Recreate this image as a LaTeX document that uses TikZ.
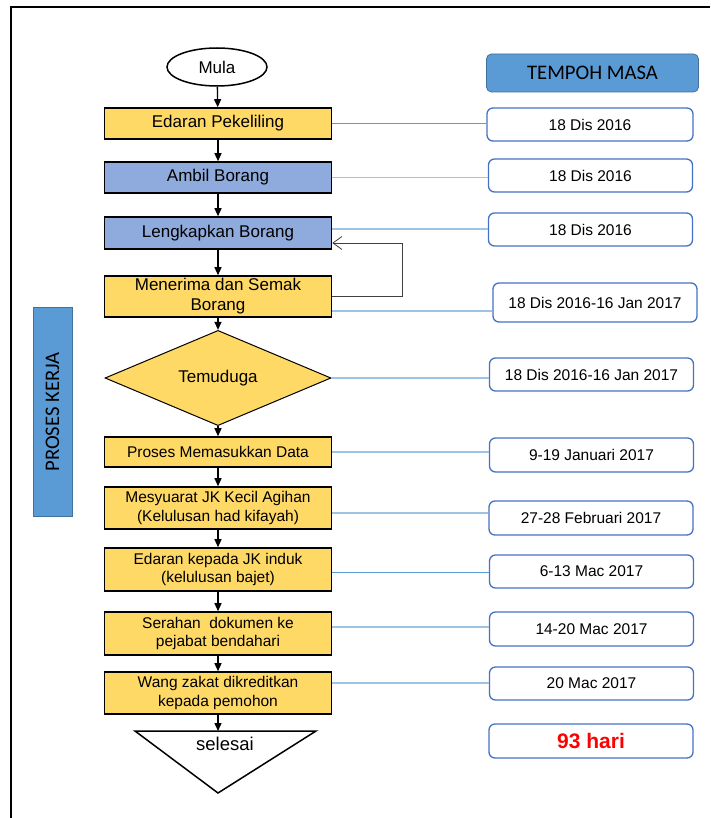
\documentclass[tikz,border=0pt]{standalone}
\usepackage{fontspec}
\setmainfont{Liberation Sans}
\newfontfamily\calibrifont{Carlito}
\usetikzlibrary{shapes.geometric,arrows.meta}

\definecolor{boxyellow}{HTML}{FFD966}
\definecolor{boxblue}{HTML}{8FAADC}
\definecolor{headblue}{HTML}{5B9BD5}
\definecolor{headline}{HTML}{41719C}
\definecolor{dateline}{HTML}{4472C4}
\definecolor{linklight}{HTML}{9DC3E6}
\definecolor{linkmid}{HTML}{5B9BD5}

\begin{document}
\begin{tikzpicture}[x=1pt, y=-1pt,
	every node/.style={inner sep=0pt, align=center},
	bigtext/.style={font=\fontsize{17}{20}\selectfont},
	smalltext/.style={font=\fontsize{15.5}{18.5}\selectfont},
	headtext/.style={font=\calibrifont\fontsize{20.7}{24}\selectfont},
	flowbox/.style={rectangle, draw=black, line width=1.6pt, fill=boxyellow, minimum width=227pt, minimum height=31pt},
	bluebox/.style={flowbox, fill=boxblue},
	datebox/.style={rectangle, rounded corners=6pt, draw=dateline, line width=1.3pt, fill=white, minimum width=204pt, minimum height=33pt, smalltext},
	link/.style={draw=linklight, line width=1.3pt},
	thinlink/.style={draw=linkmid, line width=0.7pt},
	arr/.style={-{Triangle[width=7pt,length=8pt]}, draw=black, line width=1.3pt},
	back/.style={-{Straight Barb[width=13pt,length=9pt]}, draw=black!75, line width=0.8pt}]
			\useasboundingbox (0,0) rectangle (710,818);
			\draw[line width=1.5pt] (11,818) -- (11,7) -- (710,7);
			
			% flow on the left
			\node[ellipse, draw=black, line width=1.5pt, minimum width=100pt, minimum height=38pt, bigtext] (mula) at (217,67){Mula};
			\node[flowbox, bigtext] (edaran) at (218,123.5){Edaran Pekeliling};
			\node[bluebox, bigtext] (ambil) at (218,177.5){Ambil Borang};
			\node[bluebox, bigtext, minimum height=32pt] (lengkap) at (218,233){Lengkapkan Borang};
			\node[flowbox, bigtext, minimum height=41pt] (menerima) at (218,296.5){Menerima dan Semak\\Borang};
			\node[diamond, draw=black, line width=1pt, fill=boxyellow, minimum width=226pt, minimum height=76pt, bigtext] (temuduga) at (218,378){Temuduga};
			\node[flowbox, smalltext, minimum height=30pt] (proses) at (218,452){Proses Memasukkan Data};
			\node[flowbox, smalltext, minimum height=42pt] (mesyuarat) at (218,508){Mesyuarat JK Kecil Agihan\\(Kelulusan had kifayah)};
			\node[flowbox, smalltext, minimum height=43pt] (edaraninduk) at (218,569.5){Edaran kepada JK induk\\(kelulusan bajet)};
			\node[flowbox, smalltext, minimum height=43pt] (serahan) at (218,633.5){Serahan\ \ dokumen ke\\pejabat bendahari};
			\node[flowbox, smalltext, minimum height=42pt] (wang) at (218,693){Wang zakat dikreditkan\\kepada pemohon};
			\draw[line width=1.5pt, fill=white] (135,731) -- (316,731) -- (218,793) -- cycle;
			\coordinate (selesaitop) at (218,731);
			\node[font=\fontsize{18.5}{21}\selectfont] (selesai) at (225,744){selesai};
			
			\path (mula) edge[arr] (edaran);
			\path (edaran) edge[arr] (ambil);
			\path (ambil) edge[arr] (lengkap);
			\path (lengkap) edge[arr] (menerima);
			\path (menerima) edge[arr] (temuduga);
			\path (temuduga) edge[arr] (proses);
			\path (proses) edge[arr] (mesyuarat);
			\path (mesyuarat) edge[arr] (edaraninduk);
			\path (edaraninduk) edge[arr] (serahan);
			\path (serahan) edge[arr] (wang);
			\path (wang) edge[arr] (selesaitop);
			\draw[back] (menerima.east) -- ++(70,0) |- ([yshift=-10pt]lengkap.east);
			
			% side labels
			\node[rectangle, rounded corners=5pt, fill=headblue, draw=headline, line width=0.8pt, minimum width=212pt, minimum height=38pt, headtext] (tempoh) at (592.5,73){TEMPOH MASA};
			\node[rectangle, fill=headblue, draw=headline, line width=0.8pt, minimum width=209pt, minimum height=39pt, rotate=90, headtext] (proseskerja) at (52.5,412){PROSES KERJA};
			
			% dates on the right
			\node[datebox, minimum width=206pt] (d1) at (590,124.5){18 Dis 2016};
			\node[datebox] (d2) at (590.5,175.5){18 Dis 2016};
			\node[datebox] (d3) at (590.5,229.5){18 Dis 2016};
			\node[datebox, minimum height=39pt] (d4) at (595,302.5){18 Dis 2016-16 Jan 2017};
			\node[datebox] (d5) at (591.5,374.5){18 Dis 2016-16 Jan 2017};
			\node[datebox, minimum height=34pt] (d6) at (591.5,455){9-19 Januari 2017};
			\node[datebox, minimum height=34pt] (d7) at (591,518){27-28 Februari 2017};
			\node[datebox] (d8) at (591.5,571.5){6-13 Mac 2017};
			\node[datebox, minimum height=34pt] (d9) at (591.5,629){14-20 Mac 2017};
			\node[datebox] (d10) at (591.5,683.5){20 Mac 2017};
			\node[datebox, minimum height=34pt, font=\bfseries\fontsize{21}{24}\selectfont, text=red] (d11) at (591,741){93 hari};
			
			\coordinate (c3) at ([yshift=4pt]lengkap.east);
			\coordinate (c4) at ([yshift=-14.5pt]menerima.east);
			\coordinate (c7) at ([yshift=-5pt]mesyuarat.east);
			\coordinate (c8) at ([yshift=-2.5pt]edaraninduk.east);
			\coordinate (c9) at ([yshift=6.5pt]serahan.east);
			\coordinate (c10) at ([yshift=10pt]wang.east);
			\draw[thinlink] (edaran.east) -- (edaran.east -| d1.west);
			\draw[link] (ambil.east) -- (ambil.east -| d2.west);
			\draw[link] (c3) -- (c3 -| d3.west);
			\draw[link] (c4) -- (c4 -| d4.west);
			\draw[link] (temuduga.east) -- (temuduga.east -| d5.west);
			\draw[link] (proses.east) -- (proses.east -| d6.west);
			\draw[link] (c7) -- (c7 -| d7.west);
			\draw[thinlink] (c8) -- (c8 -| d8.west);
			\draw[link] (c9) -- (c9 -| d9.west);
			\draw[link] (c10) -- (c10 -| d10.west);
\end{tikzpicture}
\end{document}
